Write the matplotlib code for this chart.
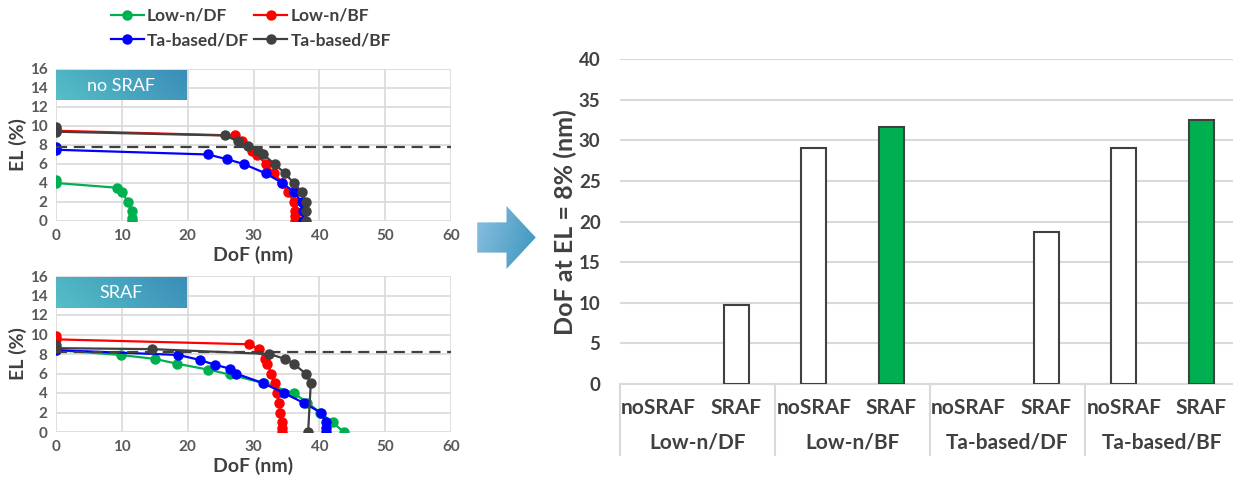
import numpy as np
import matplotlib
matplotlib.use("Agg")
from matplotlib import pyplot as plt
from matplotlib import patches as mpatches
from matplotlib import transforms as mtrans
from matplotlib.colors import LinearSegmentedColormap

plt.rcParams["font.family"] = ["Lato", "DejaVu Sans"]
plt.rcParams["font.weight"] = "bold"
plt.rcParams["axes.labelweight"] = "bold"

# EL vs DoF curves, no SRAF
nosraf_lndf_x = [0, 0, 9.3, 10.1, 10.9, 11.5, 11.6, 11.6]
nosraf_lndf_y = [4.3, 4.0, 3.5, 3.0, 2.0, 1.0, 0.3, 0.0]
nosraf_lnbf_x = [0, 0, 27.2, 28.3, 29.8, 30.6, 31.9, 33.1, 34.4, 35.2, 36.2, 36.3, 36.3, 36.3]
nosraf_lnbf_y = [9.7, 9.5, 9.0, 8.4, 7.4, 6.9, 6.0, 5.0, 4.0, 3.0, 2.0, 1.0, 0.5, 0.0]
nosraf_tadf_x = [0, 0, 23.1, 26.0, 28.5, 31.9, 34.4, 36.2, 37.3, 37.5, 37.5]
nosraf_tadf_y = [7.8, 7.5, 7.0, 6.5, 6.0, 5.0, 4.0, 3.0, 2.0, 1.0, 0.0]
nosraf_tabf_x = [0, 0, 25.7, 27.6, 29.1, 30.7, 31.5, 33.2, 34.8, 36.1, 37.4, 37.9, 38.0, 38.0]
nosraf_tabf_y = [9.9, 9.4, 9.0, 8.4, 7.9, 7.4, 7.0, 6.0, 5.0, 4.0, 3.0, 2.0, 1.0, 0.0]
nosraf_target = 7.8

# EL vs DoF curves, SRAF
sraf_lndf_x = [0, 9.8, 15.0, 18.4, 23.1, 26.4, 31.6, 36.1, 38.2, 40.1, 42.0, 43.7]
sraf_lndf_y = [8.4, 7.9, 7.5, 7.0, 6.4, 5.9, 5.0, 4.0, 3.0, 2.0, 1.0, 0.0]
sraf_lnbf_x = [0, 0, 29.3, 30.8, 31.7, 32.1, 32.7, 33.2, 33.5, 33.9, 34.1, 34.3, 34.4, 34.4]
sraf_lnbf_y = [9.8, 9.5, 9.0, 8.5, 7.5, 7.0, 6.0, 5.0, 4.0, 3.0, 2.0, 1.0, 0.4, 0.0]
sraf_tadf_x = [0, 18.6, 21.8, 24.1, 26.4, 27.3, 31.5, 34.6, 37.6, 40.2, 41.0, 41.0, 41.0]
sraf_tadf_y = [8.4, 7.9, 7.4, 6.9, 6.5, 6.0, 5.0, 4.0, 3.0, 2.0, 1.0, 0.4, 0.0]
sraf_tabf_x = [0, 0, 14.6, 32.4, 34.8, 36.1, 37.9, 38.7, 38.3]
sraf_tabf_y = [8.9, 8.6, 8.5, 8.0, 7.5, 7.0, 6.0, 5.0, 0.0]
sraf_target = 8.2

# DoF at EL = 8%
groups = ["Low-n/DF", "Low-n/BF", "Ta-based/DF", "Ta-based/BF"]
conditions = ["noSRAF", "SRAF"]
dof_nosraf = [np.nan, 29.1, np.nan, 29.1]
dof_sraf = [9.7, 31.6, 18.7, 32.5]

GREEN = "#00B050"
RED = "#FF0000"
BLUE = "#0000FF"
DARK = "#404040"
GRID = "#D9D9D9"
TEXT = "#404040"

W, H = 1233, 483
fig = plt.figure(figsize=(W / 100, H / 100), dpi=100)


def px_axes(left, top, right, bottom):
    return fig.add_axes([left / W, 1 - bottom / H, (right - left) / W, (bottom - top) / H])


box_cmap = LinearSegmentedColormap.from_list("box", ["#55BFC6", "#3B8DB8"])


def gradient_box(ax, x0, x1, y0, y1, label):
    grad = np.linspace(0, 1, 256).reshape(1, -1)
    grad = grad + np.linspace(0, 0.25, 16).reshape(-1, 1)
    ax.imshow(grad, cmap=box_cmap, extent=(x0, x1, y0, y1), aspect="auto",
              origin="lower", zorder=5, vmin=0, vmax=1.25)
    ax.text((x0 + x1) / 2, (y0 + y1) / 2, label, color="white", fontsize=13,
            fontweight="normal", ha="center", va="center", zorder=6)


def el_panel(ax, curves, target, label):
    colors = [GREEN, RED, BLUE, DARK]
    names = ["Low-n/DF", "Low-n/BF", "Ta-based/DF", "Ta-based/BF"]
    handles = []
    for (xs, ys), c, n in zip(curves, colors, names):
        h, = ax.plot(xs, ys, "-o", color=c, lw=1.6, ms=6.5, label=n, zorder=3)
        handles.append(h)
    ax.axhline(target, color=DARK, lw=1.6, ls=(0, (5, 3)), zorder=4)
    ax.set_xlim(0, 60)
    ax.set_ylim(0, 16)
    ax.set_xticks(range(0, 61, 10))
    ax.set_yticks(range(0, 17, 2))
    ax.grid(True, color=GRID, lw=1.2)
    ax.set_axisbelow(True)
    for s in ax.spines.values():
        s.set_visible(False)
    ax.tick_params(length=0, labelsize=11, colors="#595959", pad=6)
    for t in ax.get_xticklabels() + ax.get_yticklabels():
        t.set_fontweight("bold")
    ax.set_xlabel("DoF (nm)", fontsize=14, color=TEXT, labelpad=2, fontweight="bold")
    ax.set_ylabel("EL (%)", fontsize=14, color=TEXT, labelpad=2, fontweight="bold")
    gradient_box(ax, 0, 19.8, 12.7, 15.8, label)
    return handles


ax1 = px_axes(56, 69, 451, 221)
handles = el_panel(ax1, [(nosraf_lndf_x, nosraf_lndf_y), (nosraf_lnbf_x, nosraf_lnbf_y),
                         (nosraf_tadf_x, nosraf_tadf_y), (nosraf_tabf_x, nosraf_tabf_y)],
                   nosraf_target, "no SRAF")

ax2 = px_axes(56, 276, 451, 432)
el_panel(ax2, [(sraf_lndf_x, sraf_lndf_y), (sraf_lnbf_x, sraf_lnbf_y),
               (sraf_tadf_x, sraf_tadf_y), (sraf_tabf_x, sraf_tabf_y)],
         sraf_target, "SRAF")

leg = fig.legend([handles[0], handles[2], handles[1], handles[3]],
                 ["Low-n/DF", "Ta-based/DF", "Low-n/BF", "Ta-based/BF"],
                 ncol=2, loc="center", bbox_to_anchor=(251 / W, 1 - 28 / H),
                 frameon=False, prop={"size": 12.5, "weight": "bold"},
                 handlelength=1.9, handletextpad=0.2,
                 columnspacing=0.3, labelspacing=0.5, borderpad=0)
for t in leg.get_texts():
    t.set_color(TEXT)

# arrow
ax_arrow = px_axes(476, 206, 537, 269)
ax_arrow.set_xlim(0, 1)
ax_arrow.set_ylim(0, 1)
ax_arrow.axis("off")
arrow_cmap = LinearSegmentedColormap.from_list("arrow", ["#8CC0E0", "#3A95BD"])
ag = np.linspace(0, 1, 256).reshape(1, -1) + np.linspace(0.3, 0, 64).reshape(-1, 1)
im = ax_arrow.imshow(ag, cmap=arrow_cmap, extent=(0, 1, 0, 1), aspect="auto",
                     origin="lower", vmin=0, vmax=1.3)
poly = mpatches.Polygon([(0.02, 0.26), (0.50, 0.26), (0.50, 0.0), (0.98, 0.5),
                         (0.50, 1.0), (0.50, 0.74), (0.02, 0.74)],
                        closed=True, transform=ax_arrow.transData, fc="none", ec="none")
ax_arrow.add_patch(poly)
im.set_clip_path(poly)

# bar chart
ax3 = px_axes(620, 59.3, 1240, 384)
xs = np.arange(len(groups) * 2)
vals = []
cols = []
for i in range(len(groups)):
    vals += [dof_nosraf[i], dof_sraf[i]]
    cols += ["white", GREEN if groups[i].endswith("BF") else "white"]
ax3.bar(xs, vals, width=0.32, color=cols, edgecolor=DARK, linewidth=1.5, zorder=3)
ax3.set_xlim(-0.5, len(xs) - 0.5)
ax3.set_ylim(0, 40)
ax3.set_yticks(range(0, 41, 5))
ax3.yaxis.grid(True, color=GRID, lw=1.5)
ax3.set_axisbelow(True)
for s in ax3.spines.values():
    s.set_visible(False)
ax3.set_xticks([])
ax3.tick_params(axis="y", length=0, labelsize=13.5, colors=TEXT, pad=14)
for t in ax3.get_yticklabels():
    t.set_fontweight("bold")
ax3.set_ylabel("DoF at EL = 8% (nm)", fontsize=18, color=TEXT, labelpad=1, fontweight="bold")

tr = mtrans.blended_transform_factory(ax3.transData, ax3.transAxes)
ax3.plot([-0.5, len(xs) - 0.5], [0, 0], transform=tr, color=GRID, lw=1.5, clip_on=False)
for k in range(len(groups) + 1):
    ax3.plot([2 * k - 0.5] * 2, [0, -0.22], transform=tr, color=GRID, lw=1.5, clip_on=False)
for i, g in enumerate(groups):
    for j, c in enumerate(conditions):
        ax3.text(2 * i + j, -0.075, c, transform=tr, ha="center", va="center",
                 fontsize=15, color=TEXT, fontweight="bold")
    ax3.text(2 * i + 0.5, -0.18, g, transform=tr, ha="center", va="center",
             fontsize=15, color=TEXT, fontweight="bold")

fig.savefig("out.png", dpi=100)
